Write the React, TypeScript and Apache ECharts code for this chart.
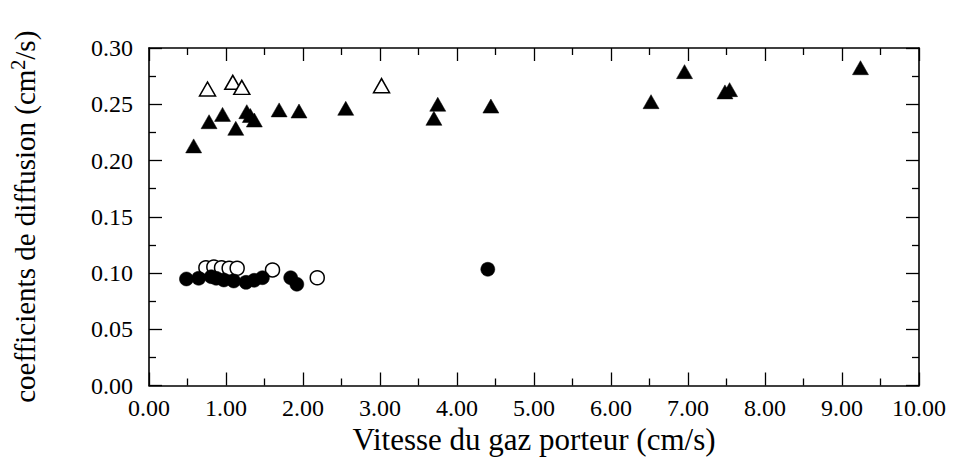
import React, { useEffect, useRef } from "react";
import * as echarts from "echarts";

// Filled triangles
const filledTriX = [0.58, 0.78, 0.955, 1.127, 1.27, 1.316, 1.368, 1.69, 1.948, 2.555, 3.70, 3.75, 4.44, 6.52, 6.955, 7.48, 7.54, 9.24];
const filledTriY = [0.213, 0.2345, 0.241, 0.2286, 0.2434, 0.240, 0.236, 0.245, 0.244, 0.2464, 0.2375, 0.250, 0.2484, 0.2523, 0.279, 0.261, 0.263, 0.2825];
// Open triangles
const openTriX = [0.76, 1.088, 1.205, 3.02];
const openTriY = [0.2636, 0.2695, 0.265, 0.2665];
// Open circles
const openCircX = [0.739, 0.842, 0.942, 1.041, 1.145, 1.604, 2.185];
const openCircY = [0.1047, 0.1053, 0.1047, 0.1042, 0.1042, 0.1027, 0.0958];
// Filled circles
const filledCircX = [0.486, 0.645, 0.809, 0.873, 0.972, 1.10, 1.26, 1.366, 1.473, 1.84, 1.92, 4.40];
const filledCircY = [0.0947, 0.0953, 0.0967, 0.0953, 0.0938, 0.0929, 0.0917, 0.0935, 0.0958, 0.0958, 0.0900, 0.1033];

const xTitle = "Vitesse du gaz porteur (cm/s)";
const yTitleMain = "coefficients de diffusion (cm";
const yTitleSup = "2";
const yTitleEnd = "/s)";

const zip = (xs: number[], ys: number[]) => xs.map((x, i) => [x, ys[i]]);

const FONT = "Liberation Serif";

export default function App() {
  const ref = useRef<HTMLDivElement>(null);
  useEffect(() => {
    if (!ref.current) return;
    const chart = echarts.init(ref.current, null, { renderer: "svg" });
    const axisLine = { show: true, onZero: false, lineStyle: { color: "#000", width: 1.6 } };
    const axisTick = { show: true, inside: true, length: 13, lineStyle: { color: "#000", width: 1.3 } };
    const minorTick = { show: true, splitNumber: 2, length: 7, lineStyle: { color: "#000", width: 1.3 } };
    const xBase = { type: "value", min: 0, max: 10, interval: 1, axisLine, axisTick, minorTick, splitLine: { show: false } };
    const yBase = { type: "value", min: 0, max: 0.3, interval: 0.05, axisLine, axisTick, minorTick, splitLine: { show: false } };
    chart.setOption({
      animation: false,
      backgroundColor: "#fff",
      grid: { left: 144, right: 34, top: 48, bottom: 81.5 },
      xAxis: [
        {
          ...xBase,
          position: "bottom",
          axisLabel: { color: "#000", fontFamily: FONT, fontSize: 24, margin: 10, formatter: (v: number) => v.toFixed(2) },
          name: xTitle,
          nameLocation: "middle",
          nameGap: 31,
          nameTextStyle: { color: "#000", fontFamily: FONT, fontSize: 31 },
        },
        { ...xBase, position: "top", axisLabel: { show: false } },
      ],
      yAxis: [
        {
          ...yBase,
          position: "left",
          axisLabel: { color: "#000", fontFamily: FONT, fontSize: 24, margin: 16, formatter: (v: number) => v.toFixed(2) },
          name: `{m|${yTitleMain}}{s|${yTitleSup}}{m|${yTitleEnd}}`,
          nameLocation: "middle",
          nameGap: 107,
          nameRotate: 90,
          nameTextStyle: {
            color: "#000",
            fontFamily: FONT,
            fontSize: 29,
            rich: {
              m: { fontFamily: FONT, fontSize: 29, color: "#000", lineHeight: 34 },
              s: { fontFamily: FONT, fontSize: 20, color: "#000", verticalAlign: "top", lineHeight: 34 },
            },
          },
        },
        { ...yBase, position: "right", axisLabel: { show: false } },
      ],
      series: [
        {
          type: "scatter",
          data: zip(openCircX, openCircY),
          symbol: "circle",
          symbolSize: 14,
          itemStyle: { color: "#fff", borderColor: "#000", borderWidth: 1.5, opacity: 1 },
        },
        {
          type: "scatter",
          data: zip(filledCircX, filledCircY),
          symbol: "circle",
          symbolSize: 14,
          itemStyle: { color: "#000", borderColor: "#000", borderWidth: 0.5, opacity: 1 },
        },
        {
          type: "scatter",
          data: zip(openTriX, openTriY),
          symbol: "triangle",
          symbolSize: [16, 14],
          itemStyle: { color: "#fff", borderColor: "#000", borderWidth: 1.5, opacity: 1 },
        },
        {
          type: "scatter",
          data: zip(filledTriX, filledTriY),
          symbol: "triangle",
          symbolSize: [16, 14],
          itemStyle: { color: "#000", borderColor: "#000", borderWidth: 0.5, opacity: 1 },
        },
      ],
    });
    return () => chart.dispose();
  }, []);
  return <div ref={ref} style={{ position: "fixed", left: 0, top: 0, width: 953, height: 467 }} />;
}
